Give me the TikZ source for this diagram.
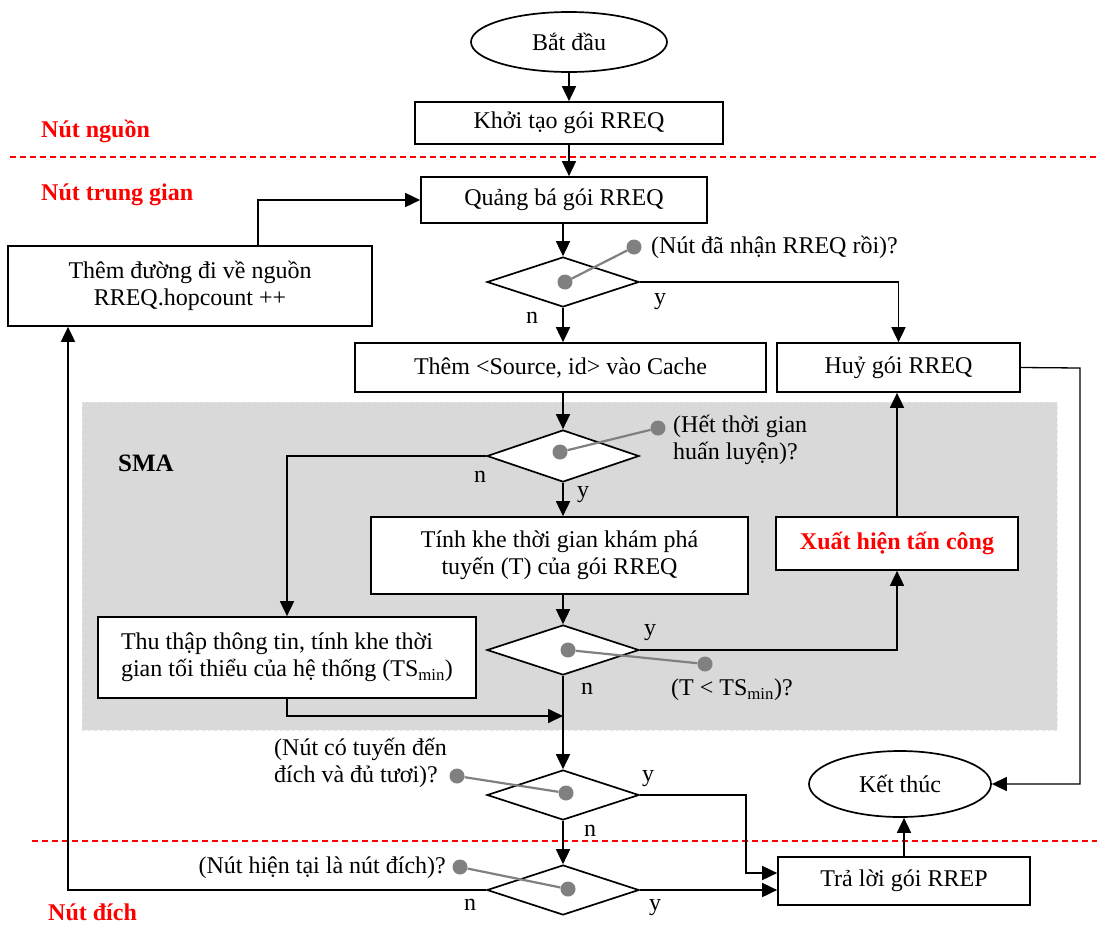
\documentclass[tikz,border=0pt]{standalone}
\usepackage{fontspec}
\setmainfont{Liberation Serif}
\usetikzlibrary{shapes.geometric,arrows.meta}
\definecolor{smagray}{RGB}{217,217,217}
\definecolor{dotgray}{RGB}{128,128,128}
\definecolor{lblred}{RGB}{255,0,0}
\begin{document}
\begin{tikzpicture}[x=1pt,y=-1pt,
  every node/.style={font=\fontsize{24}{27}\selectfont},
  box/.style={draw, line width=1.7pt, fill=white, inner sep=0pt, align=center},
  term/.style={ellipse, draw, line width=1.7pt, fill=white, inner sep=0pt},
  decision/.style={diamond, draw, line width=1.7pt, fill=white, inner sep=0pt, minimum width=152pt, minimum height=50pt},
  flow/.style={line width=1.7pt, -{Triangle[length=15pt,width=14pt]}},
  thinflow/.style={line width=1.3pt, -{Triangle[length=15pt,width=14pt]}},
  hint/.style={line width=2.2pt, draw=dotgray},
  dotmark/.style={circle, fill=dotgray, inner sep=0pt, minimum size=15pt},
  zone/.style={text=lblred, font=\fontsize{24}{27}\selectfont\bfseries, inner sep=0pt},
  zoneline/.style={draw=lblred, line width=1.4pt, dash pattern=on 6pt off 4pt},
  region/.style={fill=smagray, draw=gray!20, dashed, line width=0.6pt, inner sep=0pt},
  lbl/.style={inner sep=0pt},
]
\useasboundingbox (0,0) rectangle (1097,924);

% SMA background region
\node[region, minimum width=975pt, minimum height=328pt] (sma) at (569.5,566) {};

% zone separators
\coordinate (l1a) at (10,157); \coordinate (l1b) at (1097,157);
\coordinate (l2a) at (32,841); \coordinate (l2b) at (1097,841);
\draw[zoneline] (l1a) -- (l1b);
\draw[zoneline] (l2a) -- (l2b);

\node[zone, anchor=west] (zsrc) at (41,131) {Nút nguồn};
\node[zone, anchor=west] (zmid) at (41,195) {Nút trung gian};
\node[zone, anchor=west] (zdst) at (48,912) {Nút đích};
\node[lbl, font=\fontsize{25}{28}\selectfont\bfseries] (smal) at (146,463) {SMA};

% nodes
\node[term, minimum width=196pt, minimum height=60pt] (start) at (569,42) {Bắt đầu};
\node[box, minimum width=308pt, minimum height=42pt] (khoi) at (569,123) {Khởi tạo gói RREQ};
\node[box, minimum width=286pt, minimum height=46pt] (quang) at (564,200) {Quảng bá gói RREQ};
\node[decision] (d1) at (563,282) {};
\node[box, minimum width=411pt, minimum height=49pt] (them) at (560.5,367.5) {Thêm <Source, id> vào Cache};
\node[box, minimum width=243pt, minimum height=49pt] (huy) at (898.5,367.5) {Huỷ gói RREQ};
\node[box, minimum width=364pt, minimum height=80pt] (thm) at (190,286) {Thêm đường đi về nguồn\\RREQ.hopcount ++};
\node[decision, minimum height=52pt] (d2) at (563,456) {};
\node[box, minimum width=377pt, minimum height=77pt] (tinh) at (559.5,555.5) {Tính khe thời gian khám phá\\tuyến (T) của gói RREQ};
\node[box, minimum width=242pt, minimum height=53pt, text=lblred, font=\fontsize{24}{27}\selectfont\bfseries] (xuat) at (897,543.5) {Xuất hiện tấn công};
\node[box, minimum width=378pt, minimum height=81pt, align=left] (thu) at (287,657.5) {Thu thập thông tin, tính khe thời\\gian tối thiểu của hệ thống (TS\textsubscript{min})};
\node[decision] (d3) at (563,650) {};
\node[decision] (d4) at (563,795) {};
\node[decision] (d5) at (563,890) {};
\node[box, minimum width=252pt, minimum height=48pt] (tra) at (904,881) {Trả lời gói RREP};
\node[term, minimum width=182pt, minimum height=66pt] (ket) at (900,784) {Kết thúc};

% connectors
\coordinate (join) at (563,716);
\coordinate (backx) at (68,890);
\coordinate (upx) at (258,200);
\coordinate (rx) at (1080,368);

\draw[flow] (start.south) -- (khoi.north);
\draw[flow] (khoi.south) -- (khoi.south |- quang.north);
\draw[flow] (quang.south -| d1.north) -- (d1.north);
\draw[flow] (d1.south) -- (d1.south |- them.north);
\draw[flow] (d1.east) -| (huy.north);
\draw[flow] (them.south -| d2.north) -- (d2.north);
\draw[flow] (d2.south) -- (d2.south |- tinh.north);
\draw[flow] (d2.west) -| (thu.north);
\draw[flow] (tinh.south -| d3.north) -- (d3.north);
\draw[flow] (d3.east) -| (xuat.south);
\draw[flow] (xuat.north) -- (xuat.north |- huy.south);
\draw[flow] (d3.south) -- (d4.north);
\draw[flow] (thu.south) |- (join);
\draw[flow] (d4.south) -- (d5.north);
\draw[flow] (d4.east) -- ++(106,0) |- ([yshift=8pt]tra.west);
\draw[flow] (d5.east) -- (d5.east -| tra.west);
\draw[flow] (d5.west) -- (backx) -- (backx |- thm.south);
\draw[flow] (upx |- thm.north) -- (upx) -- (quang.west);
\draw[flow] (tra.north) -- (tra.north |- ket.south);
\draw[thinflow] (huy.east) -- (rx) |- (ket.east);

% question hints
\node[dotmark] (h1a) at (634,247) {};
\node[dotmark] (h1b) at (565,282) {};
\draw[hint] (h1a) -- (h1b);
\node[dotmark] (h2a) at (658,428) {};
\node[dotmark] (h2b) at (560,452) {};
\draw[hint] (h2a) -- (h2b);
\node[dotmark] (h3a) at (705,664) {};
\node[dotmark] (h3b) at (568,650) {};
\draw[hint] (h3a) -- (h3b);
\node[dotmark] (h4a) at (457,776) {};
\node[dotmark] (h4b) at (566,793) {};
\draw[hint] (h4a) -- (h4b);
\node[dotmark] (h5a) at (460,867) {};
\node[dotmark] (h5b) at (568,889) {};
\draw[hint] (h5a) -- (h5b);

\node[lbl, anchor=west] (q1) at (651,247) {(Nút đã nhận RREQ rồi)?};
\node[lbl, anchor=west, align=left] (q2) at (673,440) {(Hết thời gian\\huấn luyện)?};
\node[lbl, anchor=west] (q3) at (671,690) {(T < TS\textsubscript{min})?};
\node[lbl, anchor=east, align=left] (q4) at (447,763) {(Nút có tuyến đến\\đích và đủ tươi)?};
\node[lbl, anchor=east] (q5) at (446,868) {(Nút hiện tại là nút đích)?};

% branch labels
\node[lbl] (y1) at (660,302) {y};
\node[lbl] (n1) at (532,318) {n};
\node[lbl] (n2) at (480,477) {n};
\node[lbl] (y2) at (583,495) {y};
\node[lbl] (y3) at (650,633) {y};
\node[lbl] (n3) at (587,689) {n};
\node[lbl] (y4) at (648,779) {y};
\node[lbl] (n4) at (590,831) {n};
\node[lbl] (y5) at (655,908) {y};
\node[lbl] (n5) at (470,905) {n};
\end{tikzpicture}
\end{document}
